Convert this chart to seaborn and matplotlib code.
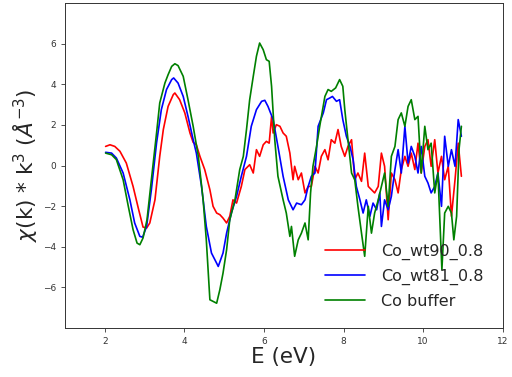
import pandas as pd
import matplotlib
matplotlib.use("Agg")
import matplotlib.pyplot as plt
import seaborn as sns

# values
wt90_e = [2.02, 2.13, 2.25, 2.38, 2.54, 2.71, 2.84, 2.96, 3.05, 3.13, 3.26, 3.38, 3.47, 3.59, 3.72, 3.76,
          3.88, 4.01, 4.14, 4.22, 4.30, 4.39, 4.51, 4.64, 4.72, 4.81, 4.89, 4.97, 5.06, 5.14, 5.22, 5.31,
          5.43, 5.52, 5.64, 5.73, 5.81, 5.89, 5.98, 6.06, 6.13, 6.19, 6.23, 6.31, 6.40, 6.48, 6.56, 6.65,
          6.73, 6.77, 6.86, 6.94, 7.03, 7.11, 7.19, 7.28, 7.36, 7.44, 7.53, 7.61, 7.69, 7.78, 7.86, 7.94,
          8.03, 8.11, 8.20, 8.28, 8.36, 8.45, 8.53, 8.62, 8.70, 8.78, 8.87, 8.95, 9.03, 9.12, 9.20, 9.29,
          9.37, 9.45, 9.54, 9.62, 9.70, 9.79, 9.87, 9.95, 10.04, 10.12, 10.20, 10.29, 10.37, 10.46, 10.54,
          10.63, 10.71, 10.80, 10.88, 10.96]
wt90_chi = [0.94, 1.02, 0.94, 0.70, 0.12, -1.03, -2.09, -3.03, -3.08, -2.83, -1.69, 0.45, 1.77, 2.91, 3.49, 3.57,
            3.24, 2.59, 1.60, 1.14, 1.02, 0.45, -0.20, -1.19, -2.01, -2.34, -2.42, -2.59, -2.83, -2.50, -1.69, -1.85,
            -1.03, -0.20, 0.04, -0.37, 0.78, 0.45, 1.02, 1.19, 1.10, 2.42, 1.60, 2.01, 1.93, 1.60, 1.44, 0.61,
            -0.70, -0.04, -0.70, -0.37, -1.35, -1.03, -1.03, -0.04, -0.37, 0.45, 0.78, 0.28, 1.27, 1.10, 1.77, 0.94,
            0.45, 0.94, 1.27, -0.70, -0.37, -0.78, 0.61, -1.03, -1.19, -1.35, -1.03, 0.61, -0.04, -2.67, -0.37, -0.70,
            -1.35, -0.20, 0.45, -0.04, 0.61, -0.20, 1.10, -0.37, 0.94, 1.27, -0.04, 1.27, -0.37, 0.45, -0.70,
            -0.04, -2.50, -0.70, 1.10, -0.53]

wt81_e = [2.02, 2.17, 2.29, 2.46, 2.63, 2.75, 2.88, 2.95, 3.05, 3.17, 3.30, 3.42, 3.55, 3.68, 3.73, 3.84,
          3.97, 4.09, 4.22, 4.30, 4.43, 4.55, 4.68, 4.81, 4.85, 4.97, 5.06, 5.18, 5.31, 5.43, 5.56, 5.68,
          5.81, 5.94, 6.02, 6.10, 6.23, 6.35, 6.48, 6.61, 6.73, 6.82, 6.94, 7.03, 7.11, 7.19, 7.28, 7.36,
          7.49, 7.57, 7.65, 7.72, 7.82, 7.90, 7.98, 8.07, 8.16, 8.24, 8.32, 8.41, 8.49, 8.57, 8.66, 8.74,
          8.83, 8.91, 8.95, 9.03, 9.12, 9.20, 9.29, 9.37, 9.45, 9.54, 9.62, 9.70, 9.79, 9.87, 9.95, 10.04,
          10.12, 10.20, 10.29, 10.37, 10.46, 10.54, 10.63, 10.71, 10.80, 10.88, 10.96]
wt81_chi = [0.65, 0.61, 0.37, -0.37, -1.69, -2.83, -3.49, -3.53, -3.00, -1.19, 1.11, 2.75, 3.74, 4.23, 4.31, 4.06,
            3.40, 2.42, 1.27, 0.61, -1.03, -3.00, -4.31, -4.81, -4.97, -4.31, -3.33, -2.34, -1.52, -0.53, 0.45, 1.93,
            2.75, 3.16, 3.21, 2.91, 2.26, 0.94, -0.53, -1.69, -2.18, -1.85, -1.93, -1.69, -1.03, -0.53, -0.37, 1.93,
            2.59, 3.24, 3.32, 3.40, 3.16, 3.24, 2.26, 1.44, 0.94, 0.28, -1.03, -1.69, -2.34, -1.69, -2.50, -1.85,
            -2.18, -1.35, -3.00, -1.69, -2.18, -1.52, -0.20, 0.78, -0.37, 1.93, 0.12, 0.94, 0.45, -0.37, 0.94, -0.53,
            -0.86, -1.35, -1.03, -0.37, -2.01, 1.44, -0.04, 0.78, -0.04, 2.26, 1.44]

buffer_e = [2.02, 2.17, 2.29, 2.46, 2.59, 2.71, 2.81, 2.88, 2.96, 3.06, 3.17, 3.30, 3.38, 3.51, 3.59, 3.68,
            3.76, 3.84, 3.97, 4.09, 4.22, 4.35, 4.47, 4.55, 4.64, 4.72, 4.81, 4.89, 4.97, 5.06, 5.14, 5.27,
            5.39, 5.48, 5.56, 5.64, 5.73, 5.81, 5.89, 5.98, 6.06, 6.13, 6.19, 6.27, 6.35, 6.48, 6.56, 6.65,
            6.69, 6.77, 6.86, 6.94, 7.03, 7.11, 7.17, 7.23, 7.32, 7.40, 7.53, 7.61, 7.69, 7.80, 7.90, 7.98,
            8.03, 8.11, 8.20, 8.28, 8.36, 8.45, 8.53, 8.62, 8.70, 8.78, 8.87, 8.95, 9.03, 9.12, 9.20, 9.29,
            9.37, 9.45, 9.54, 9.62, 9.70, 9.79, 9.87, 9.95, 10.04, 10.12, 10.20, 10.29, 10.37, 10.47, 10.54,
            10.63, 10.71, 10.77, 10.84, 10.90, 10.96]
buffer_chi = [0.61, 0.53, 0.29, -0.70, -2.01, -3.16, -3.82, -3.90, -3.57, -2.67, -0.70, 1.60, 3.08, 4.06, 4.47, 4.88,
              5.01, 4.92, 4.39, 3.24, 1.93, 0.45, -1.69, -3.66, -6.61, -6.69, -6.78, -6.12, -5.30, -4.15, -2.67, -1.69,
              -0.20, 0.45, 1.77, 3.24, 4.39, 5.38, 6.03, 5.70, 5.21, 5.13, 3.90, 1.27, -0.53, -1.69, -2.34, -3.49,
              -3.00, -4.47, -3.66, -3.33, -2.83, -3.66, -1.35, -0.04, 0.94, 1.93, 3.40, 3.74, 3.65, 3.82, 4.23, 3.90,
              2.75, 1.27, -0.37, -0.70, -2.01, -3.33, -4.47, -2.01, -3.33, -2.34, -1.69, -1.03, -0.37, -2.01, 0.45, 0.94,
              2.26, 2.59, 1.93, 2.91, 3.24, 2.26, 2.42, -0.37, 1.93, 0.78, 1.10, -1.35, -0.37, -5.13, -2.34,
              -2.01, -2.34, -3.66, -2.50, 0.78, 1.93]

series = [
    ("Co_wt90_0.8", wt90_e, wt90_chi, "red"),
    ("Co_wt81_0.8", wt81_e, wt81_chi, "blue"),
    ("Co buffer", buffer_e, buffer_chi, "green"),
]

sns.set_style("ticks")
plt.rcParams["font.family"] = ["DejaVu Sans"]

fig = plt.figure(figsize=(5.12, 3.77), dpi=100)
ax = fig.add_axes([0.127, 0.130, 0.855, 0.862])

for name, e, chi, color in series:
    df = pd.DataFrame({"E": e, "chi": chi})
    sns.lineplot(data=df, x="E", y="chi", color=color, label=name,
                 estimator=None, linewidth=1.2, ax=ax)

ax.set_xlim(1, 12)
ax.set_ylim(-8, 8)
ax.set_xticks([2, 4, 6, 8, 10, 12])
ax.set_yticks([-6, -4, -2, 0, 2, 4, 6])
ax.tick_params(labelsize=6.5, length=2.8, width=0.6, colors="#333333")
for s in ax.spines.values():
    s.set_linewidth(0.7)
    s.set_color("#333333")
ax.set_xlabel("E (eV)", fontsize=15.5, labelpad=1)
ax.set_ylabel(r"$\chi$(k) * k$^3$ ($\AA^{-3}$)", fontsize=15.5, labelpad=2)
ax.legend(loc="lower right", frameon=False, fontsize=11.5, handlelength=2.5,
          handletextpad=1.0, borderaxespad=0.8, labelspacing=0.55)

fig.savefig("out.png", dpi=100)
